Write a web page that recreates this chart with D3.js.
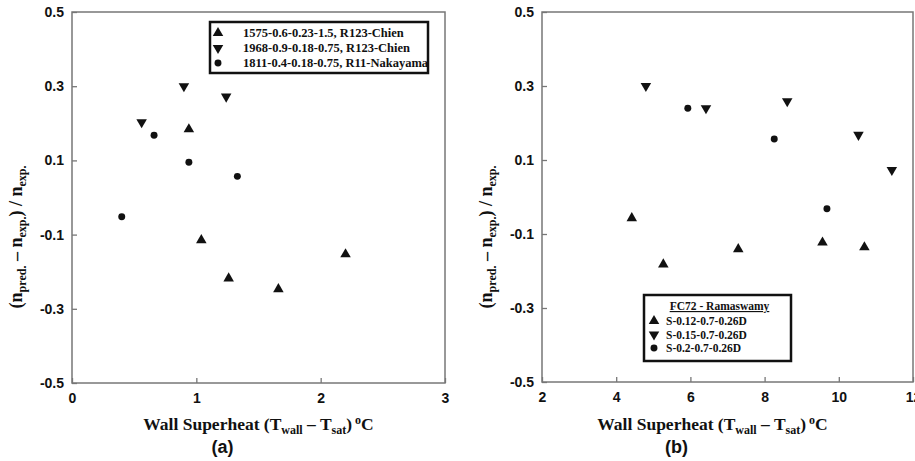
<!DOCTYPE html>
<html>
<head>
<meta charset="utf-8">
<script src="https://cdn.jsdelivr.net/npm/d3@7"></script>
<style>
  body { margin: 0; background: #fff; }
  svg { display: block; }
  .tick text { font: bold 14px Arial, "Liberation Sans", sans-serif; fill: #111; }
  .ttl { font-family: "Liberation Serif", "Times New Roman", serif; font-weight: bold; fill: #111; }
</style>
</head>
<body>
<div id="chart"></div>
<script>
// panel (a)
const aTriX = [0.94, 1.04, 1.26, 1.66, 2.20]
const aTriY = [0.184, -0.115, -0.218, -0.247, -0.153]
const aDownX = [0.56, 0.90, 1.24]
const aDownY = [0.203, 0.300, 0.272]
const aCircX = [0.40, 0.66, 0.94, 1.33]
const aCircY = [-0.052, 0.168, 0.095, 0.057]
const aNames = ["1575-0.6-0.23-1.5, R123-Chien", "1968-0.9-0.18-0.75, R123-Chien", "1811-0.4-0.18-0.75, R11-Nakayama"]
const aXTicks = [0, 1, 2, 3]

// panel (b)
const bTriX = [4.42, 5.27, 7.29, 9.56, 10.69]
const bTriY = [-0.057, -0.182, -0.141, -0.123, -0.136]
const bDownX = [4.80, 6.42, 8.61, 10.53, 11.43]
const bDownY = [0.300, 0.240, 0.259, 0.168, 0.073]
const bCircX = [5.93, 8.26, 9.68]
const bCircY = [0.240, 0.157, -0.032]
const bNames = ["S-0.12-0.7-0.26D", "S-0.15-0.7-0.26D", "S-0.2-0.7-0.26D"]
const bLegendTitle = "FC72 - Ramaswamy"
const bXTicks = [2, 4, 6, 8, 10, 12]

const yTicks = [-0.5, -0.3, -0.1, 0.1, 0.3, 0.5]

const svg = d3.select("#chart").append("svg")
    .attr("width", 915)
    .attr("height", 461)

const triUp = d3.symbol().type(d3.symbolTriangle).size(48)
const triDown = d3.symbol().type(d3.symbolTriangle).size(48)
const circ = d3.symbol().type(d3.symbolCircle).size(38)

// plain hyphen for negatives, like the original
const yFmt = d => d3.format(".1f")(d).replace("\u2212", "-")

function drawPanel(p) {
  let x = d3.scaleLinear().domain(p.xDomain).range([p.left, p.right])
  let y = d3.scaleLinear().domain([-0.5, 0.5]).range([p.bottom, p.top])

  let g = svg.append("g")

  g.append("g")
    .attr("transform", `translate(0,${p.bottom})`)
    .call(d3.axisBottom(x).tickValues(p.xTicks).tickSizeInner(-5).tickSizeOuter(0).tickPadding(10).tickFormat(d3.format("d")))
    .call(a => a.select(".domain").remove())
    .call(a => a.selectAll("line").attr("stroke", "#777").attr("stroke-width", 1.3))

  g.append("g")
    .attr("transform", `translate(${p.left},0)`)
    .call(d3.axisLeft(y).tickValues(yTicks).tickSizeInner(-5).tickSizeOuter(0).tickPadding(8).tickFormat(yFmt))
    .call(a => a.select(".domain").remove())
    .call(a => a.selectAll("line").attr("stroke", "#777").attr("stroke-width", 1.3))

  g.append("rect")
    .attr("x", p.left).attr("y", p.top)
    .attr("width", p.right - p.left).attr("height", p.bottom - p.top)
    .attr("fill", "none").attr("stroke", "#777").attr("stroke-width", 1.5)

  const series = [
    {xs: p.triX, ys: p.triY, sym: triUp, rot: 0},
    {xs: p.downX, ys: p.downY, sym: triDown, rot: 180},
    {xs: p.circX, ys: p.circY, sym: circ, rot: 0}
  ]

  series.forEach(s => {
    g.append("g").selectAll("path")
      .data(s.xs.map((v, i) => [v, s.ys[i]]))
      .join("path")
      .attr("d", s.sym)
      .attr("transform", d => `translate(${x(d[0])},${y(d[1])}) rotate(${s.rot})`)
      .attr("fill", "#111")
  })

  // x title
  let xt = g.append("text").attr("class", "ttl")
    .attr("x", (p.left + p.right) / 2 + p.xtOff).attr("y", 430)
    .attr("text-anchor", "middle").style("font-size", "17.5px")
  xt.append("tspan").text("Wall Superheat (T")
  xt.append("tspan").attr("dy", 4).style("font-size", "12px").text("wall")
  xt.append("tspan").attr("dy", -4).text(" \u2013 T")
  xt.append("tspan").attr("dy", 4).style("font-size", "12px").text("sat")
  xt.append("tspan").attr("dy", -4).text(")")
  xt.append("tspan").attr("dy", -6).style("font-size", "12px").text(" o")
  xt.append("tspan").attr("dy", 6).text("C")

  g.append("text")
    .attr("x", (p.left + p.right) / 2 + p.xtOff - 36).attr("y", 453)
    .attr("text-anchor", "middle")
    .style("font", "bold 18px Arial, 'Liberation Sans', sans-serif")
    .attr("fill", "#111")
    .text(p.tag)

  // y title
  let yt = g.append("text").attr("class", "ttl")
    .attr("transform", `translate(${p.ytX},${p.ytY}) rotate(-90)`)
    .attr("text-anchor", "middle").style("font-size", "18px")
  yt.append("tspan").text("(n")
  yt.append("tspan").attr("dy", 4).style("font-size", "12px").text("pred.")
  yt.append("tspan").attr("dy", -4).text(" \u2013 n")
  yt.append("tspan").attr("dy", 4).style("font-size", "12px").text("exp.")
  yt.append("tspan").attr("dy", -4).text(") / n")
  yt.append("tspan").attr("dy", 4).style("font-size", "12px").text("exp.")

  // legend
  let L = p.legend
  let lg = g.append("g")
  lg.append("rect")
    .attr("x", L.x).attr("y", L.y).attr("width", L.w).attr("height", L.h)
    .attr("fill", "#fff").attr("stroke", "#111").attr("stroke-width", 2.5)
  if (L.title) {
    lg.append("text").attr("class", "ttl")
      .attr("x", L.x + L.w / 2 + 2).attr("y", L.y + 15)
      .attr("text-anchor", "middle").style("font-size", L.fs + "px")
      .style("text-decoration", "underline")
      .text(L.title)
  }
  p.names.forEach((name, i) => {
    let yy = L.y0 + i * L.dy
    lg.append("path")
      .attr("d", series[i].sym)
      .attr("transform", `translate(${L.mx},${yy}) rotate(${series[i].rot})`)
      .attr("fill", "#111")
    lg.append("text").attr("class", "ttl")
      .attr("x", L.tx).attr("y", yy + 4)
      .style("font-size", L.fs + "px")
      .text(name)
  })
}

drawPanel({
  left: 72, right: 445, top: 12, bottom: 383,
  xDomain: [0, 3], xTicks: aXTicks,
  triX: aTriX, triY: aTriY, downX: aDownX, downY: aDownY, circX: aCircX, circY: aCircY,
  names: aNames, tag: "(a)", xtOff: 0, ytX: 22, ytY: 237,
  legend: {x: 210, y: 22, w: 218, h: 51, mx: 218, tx: 243, y0: 33, dy: 15, fs: 12.5}
})

drawPanel({
  left: 542, right: 913, top: 12, bottom: 382,
  xDomain: [2, 12], xTicks: bXTicks,
  triX: bTriX, triY: bTriY, downX: bDownX, downY: bDownY, circX: bCircX, circY: bCircY,
  names: bNames, tag: "(b)", xtOff: -15, ytX: 492, ytY: 237,
  legend: {x: 644, y: 295, w: 147, h: 66, mx: 654, tx: 666, y0: 321, dy: 13.5, fs: 11.5, title: bLegendTitle}
})
</script>
</body>
</html>
